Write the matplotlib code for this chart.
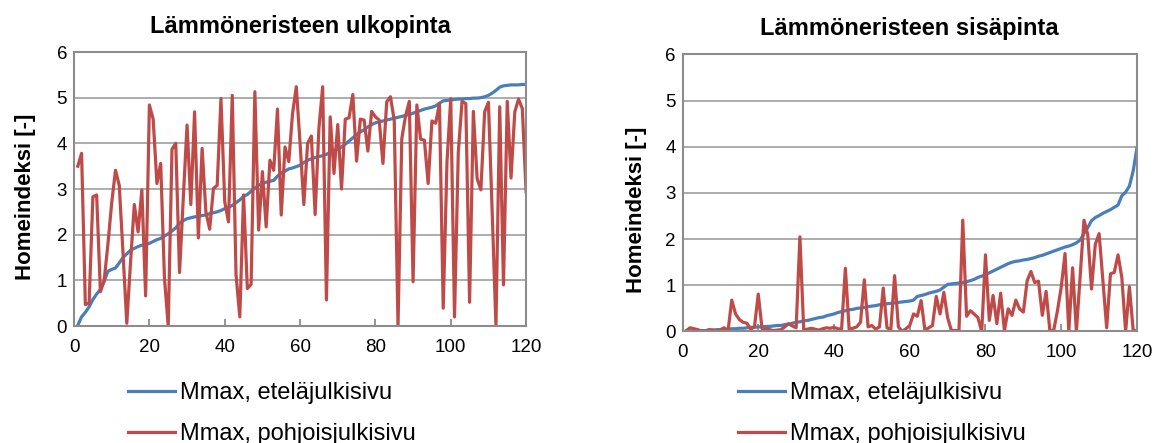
import matplotlib.pyplot as plt
import numpy as np

plt.rcParams['font.family'] = ['Liberation Sans', 'DejaVu Sans']

# Simulation cases 1..120, sorted by the south-facade Mmax
case_no = np.arange(1, 121)

# Outer surface of insulation (Lämmöneristeen ulkopinta)
ulko_etela = [
    0.02, 0.20, 0.30, 0.42, 0.58, 0.70, 0.80, 0.98, 1.20, 1.24,
    1.27, 1.38, 1.50, 1.58, 1.66, 1.70, 1.74, 1.77, 1.79, 1.81,
    1.85, 1.89, 1.92, 1.97, 2.02, 2.08, 2.15, 2.25, 2.31, 2.35,
    2.37, 2.39, 2.40, 2.42, 2.43, 2.46, 2.48, 2.50, 2.53, 2.57,
    2.60, 2.64, 2.70, 2.76, 2.84, 2.88, 2.95, 3.02, 3.08, 3.12,
    3.15, 3.17, 3.19, 3.28, 3.35, 3.39, 3.44, 3.46, 3.49, 3.52,
    3.58, 3.63, 3.66, 3.69, 3.71, 3.73, 3.76, 3.80, 3.84, 3.87,
    3.92, 3.98, 4.05, 4.12, 4.19, 4.25, 4.30, 4.36, 4.41, 4.45,
    4.47, 4.49, 4.51, 4.53, 4.55, 4.57, 4.59, 4.61, 4.63, 4.66,
    4.69, 4.72, 4.75, 4.77, 4.79, 4.82, 4.88, 4.93, 4.94, 4.95,
    4.96, 4.97, 4.97, 4.98, 4.98, 4.99, 4.99, 5.00, 5.02, 5.05,
    5.10, 5.16, 5.23, 5.26, 5.27, 5.28, 5.28, 5.28, 5.29, 5.29,
]
ulko_pohjoinen = [
    3.50, 3.78, 0.47, 0.50, 2.83, 2.87, 0.75, 1.00, 1.80, 2.70,
    3.41, 3.08, 1.60, 0.06, 1.40, 2.66, 2.06, 2.98, 0.66, 4.84,
    4.53, 3.12, 3.56, 1.05, 0.00, 3.87, 4.00, 1.17, 2.80, 4.40,
    2.66, 4.69, 1.93, 3.89, 2.50, 2.12, 3.01, 3.08, 4.98, 2.72,
    2.28, 5.05, 1.12, 0.20, 2.87, 0.82, 0.91, 5.13, 2.10, 3.38,
    2.17, 3.63, 3.41, 4.75, 2.43, 3.92, 3.60, 4.65, 5.24, 4.00,
    2.66, 4.00, 4.16, 2.44, 4.33, 5.24, 0.57, 4.58, 3.34, 4.41,
    3.00, 4.53, 4.56, 5.07, 3.61, 4.53, 4.51, 3.83, 4.70, 4.58,
    4.51, 3.56, 4.91, 5.02, 4.50, 0.00, 4.10, 4.60, 4.92, 0.97,
    4.84, 4.09, 4.07, 3.12, 4.49, 4.44, 4.87, 0.39, 3.60, 4.98,
    0.20, 3.80, 4.92, 4.87, 0.52, 4.70, 3.23, 2.98, 4.69, 4.90,
    2.50, 0.00, 4.80, 0.90, 4.92, 3.24, 4.69, 4.97, 4.76, 2.94,
]

# Inner surface of insulation (Lämmöneristeen sisäpinta)
sisa_etela = [
    0.00, 0.01, 0.01, 0.02, 0.02, 0.02, 0.03, 0.03, 0.04, 0.04,
    0.05, 0.05, 0.06, 0.06, 0.07, 0.07, 0.08, 0.09, 0.09, 0.10,
    0.10, 0.11, 0.11, 0.12, 0.13, 0.13, 0.15, 0.16, 0.18, 0.20,
    0.21, 0.23, 0.24, 0.26, 0.28, 0.30, 0.31, 0.34, 0.36, 0.38,
    0.41, 0.43, 0.45, 0.47, 0.48, 0.50, 0.51, 0.52, 0.54, 0.55,
    0.56, 0.58, 0.59, 0.60, 0.61, 0.62, 0.63, 0.64, 0.65, 0.66,
    0.68, 0.76, 0.78, 0.80, 0.83, 0.85, 0.87, 0.90, 0.96, 1.02,
    1.03, 1.04, 1.05, 1.06, 1.08, 1.10, 1.13, 1.17, 1.20, 1.23,
    1.27, 1.31, 1.35, 1.39, 1.43, 1.47, 1.50, 1.52, 1.53, 1.55,
    1.56, 1.58, 1.60, 1.63, 1.65, 1.68, 1.71, 1.74, 1.77, 1.80,
    1.83, 1.85, 1.88, 1.92, 1.98, 2.12, 2.25, 2.40, 2.47, 2.51,
    2.56, 2.60, 2.64, 2.69, 2.74, 2.94, 3.02, 3.15, 3.48, 3.98,
]
sisa_pohjoinen = [
    0.02, 0.08, 0.06, 0.04, 0.01, 0.00, 0.04, 0.03, 0.00, 0.04,
    0.08, 0.00, 0.68, 0.38, 0.26, 0.20, 0.18, 0.05, 0.10, 0.81,
    0.06, 0.06, 0.04, 0.02, 0.03, 0.04, 0.10, 0.17, 0.12, 0.08,
    2.05, 0.04, 0.05, 0.07, 0.05, 0.03, 0.06, 0.08, 0.07, 0.09,
    0.06, 0.05, 1.37, 0.05, 0.07, 0.10, 0.20, 1.12, 0.10, 0.13,
    0.05, 0.10, 0.94, 0.08, 0.04, 1.21, 0.10, 0.00, 0.06, 0.13,
    0.38, 0.33, 0.67, 0.03, 0.08, 0.13, 0.76, 0.38, 0.85, 0.30,
    0.02, 0.02, 0.02, 2.41, 0.33, 0.45, 0.38, 0.30, 0.00, 1.66,
    0.24, 0.78, 0.17, 0.83, 0.02, 0.49, 0.35, 0.68, 0.49, 0.42,
    1.10, 1.30, 1.06, 1.09, 0.35, 0.87, 0.02, 0.02, 0.45, 0.96,
    1.69, 0.00, 1.38, 0.00, 1.20, 2.41, 2.10, 0.92, 1.89, 2.12,
    1.10, 0.08, 1.25, 1.28, 1.66, 1.17, 0.00, 0.97, 0.02, 0.02,
]

titles = ["Lämmöneristeen ulkopinta", "Lämmöneristeen sisäpinta"]
labels = ["Mmax, eteläjulkisivu", "Mmax, pohjoisjulkisivu"]
x_ticks = [0, 20, 40, 60, 80, 100, 120]
y_ticks = [0, 1, 2, 3, 4, 5, 6]

blue = "#4a7ebb"
red = "#be4b48"
frame = "#8c8c8c"
grid_c = "#a6a6a6"

fig = plt.figure(figsize=(11.57, 4.43), dpi=100)
ax1 = fig.add_axes([0.0640, 0.2641, 0.3907, 0.6185])
ax2 = fig.add_axes([0.5899, 0.2517, 0.3928, 0.6253])

panels = [
    (ax1, titles[0], ulko_etela, ulko_pohjoinen, -0.085, 0.47, 0.1107),
    (ax2, titles[1], sisa_etela, sisa_pohjoinen, -0.078, 0.44, 0.6380),
]

for ax, title, south, north, ylab_x, ylab_y, leg_x in panels:
    l1, = ax.plot(case_no, south, color=blue, lw=2.3, solid_joinstyle="round")
    l2, = ax.plot(case_no, north, color=red, lw=2.3, solid_joinstyle="round")

    ax.set_xlim(0, 120)
    ax.set_ylim(0, 6)
    ax.set_xticks(x_ticks)
    ax.set_yticks(y_ticks)
    ax.grid(axis="y", color=grid_c, lw=1.3)
    ax.set_axisbelow(True)
    for sp in ax.spines.values():
        sp.set_color(frame)
        sp.set_linewidth(1.5)
    ax.tick_params(axis="x", direction="in", length=5, width=1.3, color=frame,
                   labelsize=13.5, pad=9)
    ax.tick_params(axis="y", length=0, labelsize=13.5, pad=5)

    ax.set_title(title, fontsize=17, fontweight="bold", pad=14)
    ax.set_ylabel("Homeindeksi [-]", fontsize=16, fontweight="bold")
    ax.yaxis.set_label_coords(ylab_x, ylab_y)

    fig.legend([l1, l2], labels, loc="upper left", bbox_to_anchor=(leg_x, 0.138),
               frameon=False, fontsize=17, handlelength=2.0, handletextpad=0.21,
               labelspacing=0.83, borderpad=0, borderaxespad=0)

fig.savefig("out.png", dpi=100)
